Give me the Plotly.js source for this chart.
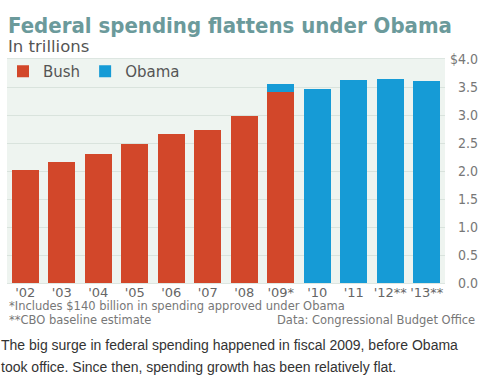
<!DOCTYPE html>
<html><head><meta charset="utf-8">
<script src="https://cdn.plot.ly/plotly-3.0.1.min.js"></script>
<style>
html,body{margin:0;padding:0;background:#fff;}
#chart{width:486px;height:386px;}
#chart g.annotation[data-index="0"] text{font-stretch:condensed;}
#chart .ytick text{font-stretch:condensed;}
</style>
</head><body><div id="chart"></div>
<script>
const years = ["'02","'03","'04","'05","'06","'07","'08","'09*","'10","'11","'12**","'13**"];
const bushValues = [2.01, 2.16, 2.30, 2.48, 2.66, 2.74, 2.99, 3.41, null, null, null, null];
const obamaValues = [null, null, null, null, null, null, null, 0.15, 3.47, 3.62, 3.65, 3.60];
const yTickVals = [0, 0.5, 1, 1.5, 2, 2.5, 3, 3.5, 4];
const yTickText = ["\u20070.0","\u20070.5","\u20071.0","\u20071.5","\u20072.0","\u20072.5","\u20073.0","\u20073.5","$4.0"];

const W = 486, H = 386, L = 7, R = 41, T = 59, B = 103;
const pw = W - L - R, ph = H - T - B;
const px = x => (x - L) / pw;
const py = y => (H - B - y) / ph;

const traces = [
  {type:'bar', name:'Bush', x: years, y: bushValues, marker:{color:'#d2472a'}, hoverinfo:'skip'},
  {type:'bar', name:'Obama', x: years, y: obamaValues, marker:{color:'#169bd6'}, hoverinfo:'skip'}
];

const annotations = [
  {text:'<b>Federal spending flattens under Obama</b>', x:px(6), y:py(25), xanchor:'left', yanchor:'middle',
   font:{family:'DejaVu Sans, sans-serif', size:22, color:'#6b9a9b'}},
  {text:'In trillions', x:px(6), y:py(47), xanchor:'left', yanchor:'middle',
   font:{family:'DejaVu Sans, sans-serif', size:16.5, color:'#555'}},
  {text:'*Includes $140 billion in spending approved under Obama', x:px(7), y:py(306), xanchor:'left', yanchor:'middle',
   font:{family:'DejaVu Sans, sans-serif', size:11.5, color:'#777'}},
  {text:'**CBO baseline estimate', x:px(7), y:py(320), xanchor:'left', yanchor:'middle',
   font:{family:'DejaVu Sans, sans-serif', size:11.5, color:'#777'}},
  {text:'Data: Congressional Budget Office', x:px(477), y:py(320), xanchor:'right', yanchor:'middle',
   font:{family:'DejaVu Sans, sans-serif', size:11.5, color:'#777'}},
  {text:'The big surge in federal spending happened in fiscal 2009, before Obama', x:px(-1), y:py(345), xanchor:'left', yanchor:'middle',
   font:{family:'Liberation Sans, Arial, sans-serif', size:14, color:'#333'}},
  {text:'took office. Since then, spending growth has been relatively flat.', x:px(-1), y:py(367), xanchor:'left', yanchor:'middle',
   font:{family:'Liberation Sans, Arial, sans-serif', size:14, color:'#333'}}
].map(a => Object.assign({xref:'paper', yref:'paper', showarrow:false, align:'left'}, a));

const layout = {
  width: W, height: H,
  margin: {l:L, r:R, t:T, b:B, pad:0, autoexpand:false},
  paper_bgcolor:'#ffffff', plot_bgcolor:'#eef4f0',
  barmode:'stack', bargap:0.26,
  showlegend:true,
  legend:{orientation:'h', x:px(3), y:py(55), xanchor:'left', yanchor:'top', bgcolor:'rgba(0,0,0,0)',
          font:{family:'DejaVu Sans, sans-serif', size:15, color:'#555'}, itemwidth:30, traceorder:'normal'},
  xaxis:{type:'category', tickfont:{family:'DejaVu Sans, sans-serif', size:13, color:'#666'},
         showgrid:false, showline:true, linecolor:'#dde6e1', mirror:true, ticks:'', fixedrange:true,
         ticklabelstandoff:-3, automargin:false},
  yaxis:{side:'right', range:[0,4], tickvals:yTickVals, ticktext:yTickText,
         tickfont:{family:'DejaVu Sans, sans-serif', size:14, color:'#777'},
         showgrid:true, gridcolor:'#d9e3dd', gridwidth:1, zeroline:false, showline:false, ticks:'', fixedrange:true,
         ticklabelstandoff:4, automargin:false},
  annotations: annotations
};

Plotly.newPlot('chart', traces, layout, {displayModeBar:false, staticPlot:true});
</script></body></html>
